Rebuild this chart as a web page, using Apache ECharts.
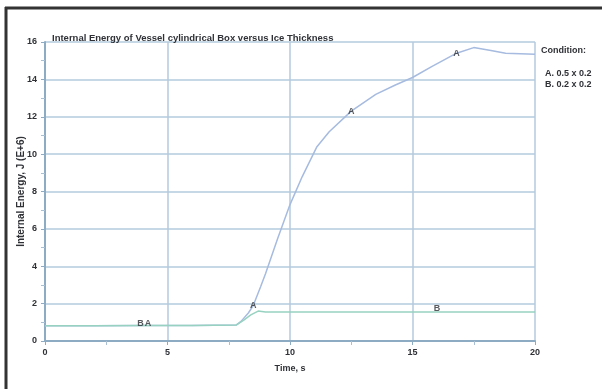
<!DOCTYPE html>
<html>
<head>
<meta charset="utf-8">
<script src="https://cdn.jsdelivr.net/npm/echarts@6/dist/echarts.min.js"></script>
<style>
  html, body { margin: 0; padding: 0; background: #ffffff; }
  #chart { width: 602px; height: 389px; }
</style>
</head>
<body>
<div id="chart"></div>
<script>
// Time (s) and internal energy (J, E+6) for condition A
var timeA = [0, 2, 4, 6, 7.8, 8.0, 8.3, 8.5, 8.8, 9.0, 9.5, 10.0, 10.5, 11.1, 11.6, 12.5, 13.5, 14.3, 15.0, 15.8, 16.8, 17.5, 18.2, 18.8, 20];
var energyA = [0.82, 0.82, 0.83, 0.83, 0.85, 1.05, 1.5, 1.9, 2.9, 3.6, 5.5, 7.3, 8.8, 10.4, 11.2, 12.3, 13.2, 13.7, 14.1, 14.7, 15.4, 15.7, 15.55, 15.4, 15.35];

// Time (s) and internal energy (J, E+6) for condition B
var timeB = [0, 2, 4, 6, 7.8, 8.1, 8.4, 8.7, 9.0, 10, 12, 14, 16, 18, 20];
var energyB = [0.82, 0.82, 0.83, 0.83, 0.85, 1.1, 1.4, 1.6, 1.55, 1.55, 1.55, 1.55, 1.55, 1.55, 1.55];

// Curve identification letters placed on the lines
var tagA = [[4.2, 0.95], [8.5, 1.9], [12.5, 12.3], [16.8, 15.4]];
var tagB = [[3.9, 0.95], [16.0, 1.75]];

// Legend entries
var conditionTitle = 'Condition:';
var conditionLines = ['A. 0.5 x 0.2', 'B. 0.2 x 0.2'];

function pairs(xs, ys) {
  return xs.map(function (x, i) { return [x, ys[i]]; });
}
function tags(list, letter) {
  return list.map(function (p) { return { value: p, name: letter }; });
}

var chart = echarts.init(document.getElementById('chart'));
var axisText = { fontFamily: 'Liberation Sans', fontWeight: 'bold', fontSize: 9, color: '#2f3136' };

chart.setOption({
  animation: false,
  backgroundColor: '#ffffff',
  title: {
    text: 'Internal Energy of Vessel cylindrical Box versus Ice Thickness',
    left: 47, top: 28,
    textStyle: { fontFamily: 'Liberation Sans', fontWeight: 'bold', fontSize: 9.5, color: '#2f3136' }
  },
  grid: { left: 45, right: 67, top: 42, bottom: 48, containLabel: false },
  xAxis: {
    type: 'value', min: 0, max: 20, interval: 5,
    name: 'Time, s', nameLocation: 'middle', nameGap: 23, nameMoveOverlap: false,
    nameTextStyle: axisText,
    axisLine: { show: true, lineStyle: { color: '#8eabc4', width: 2 } },
    axisTick: { show: true, length: 4, lineStyle: { color: '#8eabc4' } },
    minorTick: { show: true, splitNumber: 2, length: 4, lineStyle: { color: '#a9c0d4' } },
    axisLabel: Object.assign({ margin: 7 }, axisText),
    splitLine: { show: true, lineStyle: { color: '#b3cadc', width: 1.5 } }
  },
  yAxis: {
    type: 'value', min: 0, max: 16, interval: 2,
    name: 'Internal Energy, J (E+6)', nameLocation: 'middle', nameGap: 19, nameMoveOverlap: false,
    nameTextStyle: Object.assign({}, axisText, { fontSize: 10 }),
    axisLine: { show: true, lineStyle: { color: '#8eabc4', width: 2 } },
    axisTick: { show: true, length: 4, lineStyle: { color: '#8eabc4' } },
    minorTick: { show: true, splitNumber: 2, length: 4, lineStyle: { color: '#a9c0d4' } },
    axisLabel: Object.assign({ margin: 8 }, axisText),
    splitLine: { show: true, lineStyle: { color: '#b3cadc', width: 1.5 } }
  },
  graphic: [
    { type: 'line', shape: { x1: 6, y1: 7, x2: 6, y2: 389 }, style: { stroke: '#333333', lineWidth: 3 } },
    { type: 'line', shape: { x1: 5, y1: 8, x2: 602, y2: 8 }, style: { stroke: '#333333', lineWidth: 3 } },
    { type: 'text', left: 541, top: 46,
      style: { text: conditionTitle, font: 'bold 9px "Liberation Sans"', fill: '#2f3136' } },
    { type: 'text', left: 545, top: 68,
      style: { text: conditionLines.join('\n'), font: 'bold 9px "Liberation Sans"', lineHeight: 11, fill: '#2f3136' } }
  ],
  series: [
    {
      name: 'A', type: 'line', data: pairs(timeA, energyA), showSymbol: false,
      lineStyle: { color: '#a6bbdf', width: 1.5 }, z: 2
    },
    {
      name: 'B', type: 'line', data: pairs(timeB, energyB), showSymbol: false,
      lineStyle: { color: '#97d2c0', width: 1.5 }, z: 3
    },
    {
      type: 'scatter', data: tags(tagA, 'A').concat(tags(tagB, 'B')), symbolSize: 0, z: 5,
      label: {
        show: true, position: 'inside', formatter: '{b}',
        fontFamily: 'Liberation Sans', fontWeight: 'bold', fontSize: 9, color: '#2f3136'
      }
    }
  ]
});
</script>
</body>
</html>
